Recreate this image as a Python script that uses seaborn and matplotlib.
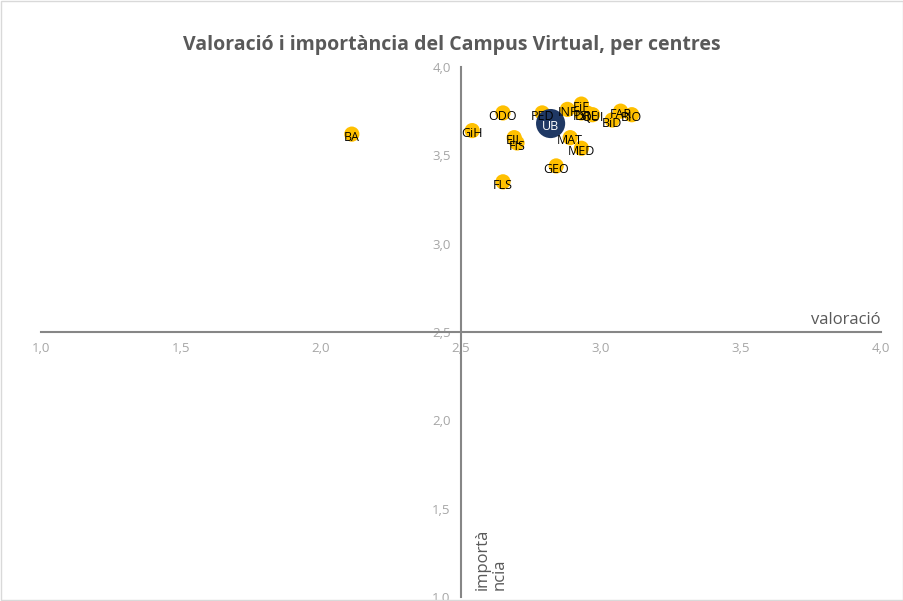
import matplotlib
matplotlib.use('Agg')
import matplotlib.pyplot as plt
import seaborn as sns
import pandas as pd
from matplotlib.ticker import FuncFormatter

# Data
centres = ['BA', 'GiH', 'ODO', 'PED', 'EIL', 'FIS', 'FLS', 'GEO', 'MAT', 'MED',
           'INF', 'EiF', 'PSI', 'DRE', 'QUI', 'BiD', 'FAR', 'BIO', 'UB']
valoracio = [2.11, 2.54, 2.65, 2.79, 2.69, 2.70, 2.65, 2.84, 2.89, 2.93,
             2.88, 2.93, 2.93, 2.95, 2.97, 3.04, 3.07, 3.11, 2.82]
importancia = [3.62, 3.64, 3.74, 3.74, 3.60, 3.57, 3.35, 3.44, 3.60, 3.54,
               3.76, 3.79, 3.74, 3.74, 3.73, 3.70, 3.75, 3.73, 3.68]

df = pd.DataFrame({'centre': centres, 'valoracio': valoracio, 'importancia': importancia})
df['grup'] = ['UB' if c == 'UB' else 'centre' for c in df['centre']]

sns.set_style('white')
plt.rcParams['font.family'] = ['Open Sans', 'DejaVu Sans']

fig = plt.figure(figsize=(9.04, 6.01), dpi=100)
ax = fig.add_axes([41/904, 1-597/601, 840/904, 530/601])

sns.scatterplot(data=df, x='valoracio', y='importancia', hue='grup', size='grup',
                sizes={'centre': 120, 'UB': 440},
                palette={'centre': '#FFC000', 'UB': '#1F3864'},
                edgecolor='none', legend=False, ax=ax, zorder=3)

for c, xv, yv in zip(centres, valoracio, importancia):
    col = 'white' if c == 'UB' else 'black'
    ax.text(xv, yv - 0.018, c, ha='center', va='center', fontsize=9, color=col, zorder=4)

ax.set_xlim(1, 4)
ax.set_ylim(1, 4)
ax.set_xticks([1, 1.5, 2, 2.5, 3, 3.5, 4])
ax.set_yticks([1, 1.5, 2, 2.5, 3, 3.5, 4])
fmt = FuncFormatter(lambda v, p: f'{v:.1f}'.replace('.', ','))
ax.xaxis.set_major_formatter(fmt)
ax.yaxis.set_major_formatter(fmt)

for s in ['top', 'right']:
    ax.spines[s].set_visible(False)
ax.spines['left'].set_position(('data', 2.5))
ax.spines['bottom'].set_position(('data', 2.5))
for s in ['left', 'bottom']:
    ax.spines[s].set_color('#868686')
    ax.spines[s].set_linewidth(1.5)
ax.tick_params(axis='both', colors='#868686', labelcolor='#A6A6A6', labelsize=9.5,
               direction='out', length=4, width=1.2)
ax.set_xlabel('')
ax.set_ylabel('')

ax.text(4.0, 2.52, 'valoració', ha='right', va='bottom', fontsize=12, color='#595959')
ax.text(2.55, 1.04, 'importà\nncia', ha='left', va='bottom', fontsize=12, color='#595959',
        rotation=90, linespacing=1.05)

fig.text(0.5, 1-45/601, 'Valoració i importància del Campus Virtual, per centres',
         ha='center', va='center', fontsize=14, fontweight='bold', color='#595959')

fig.patches.append(plt.Rectangle((0.001, 0.001), 0.998, 0.998, transform=fig.transFigure,
                                 fill=False, edgecolor='#D9D9D9', linewidth=1))

fig.savefig('out.png', dpi=100)
